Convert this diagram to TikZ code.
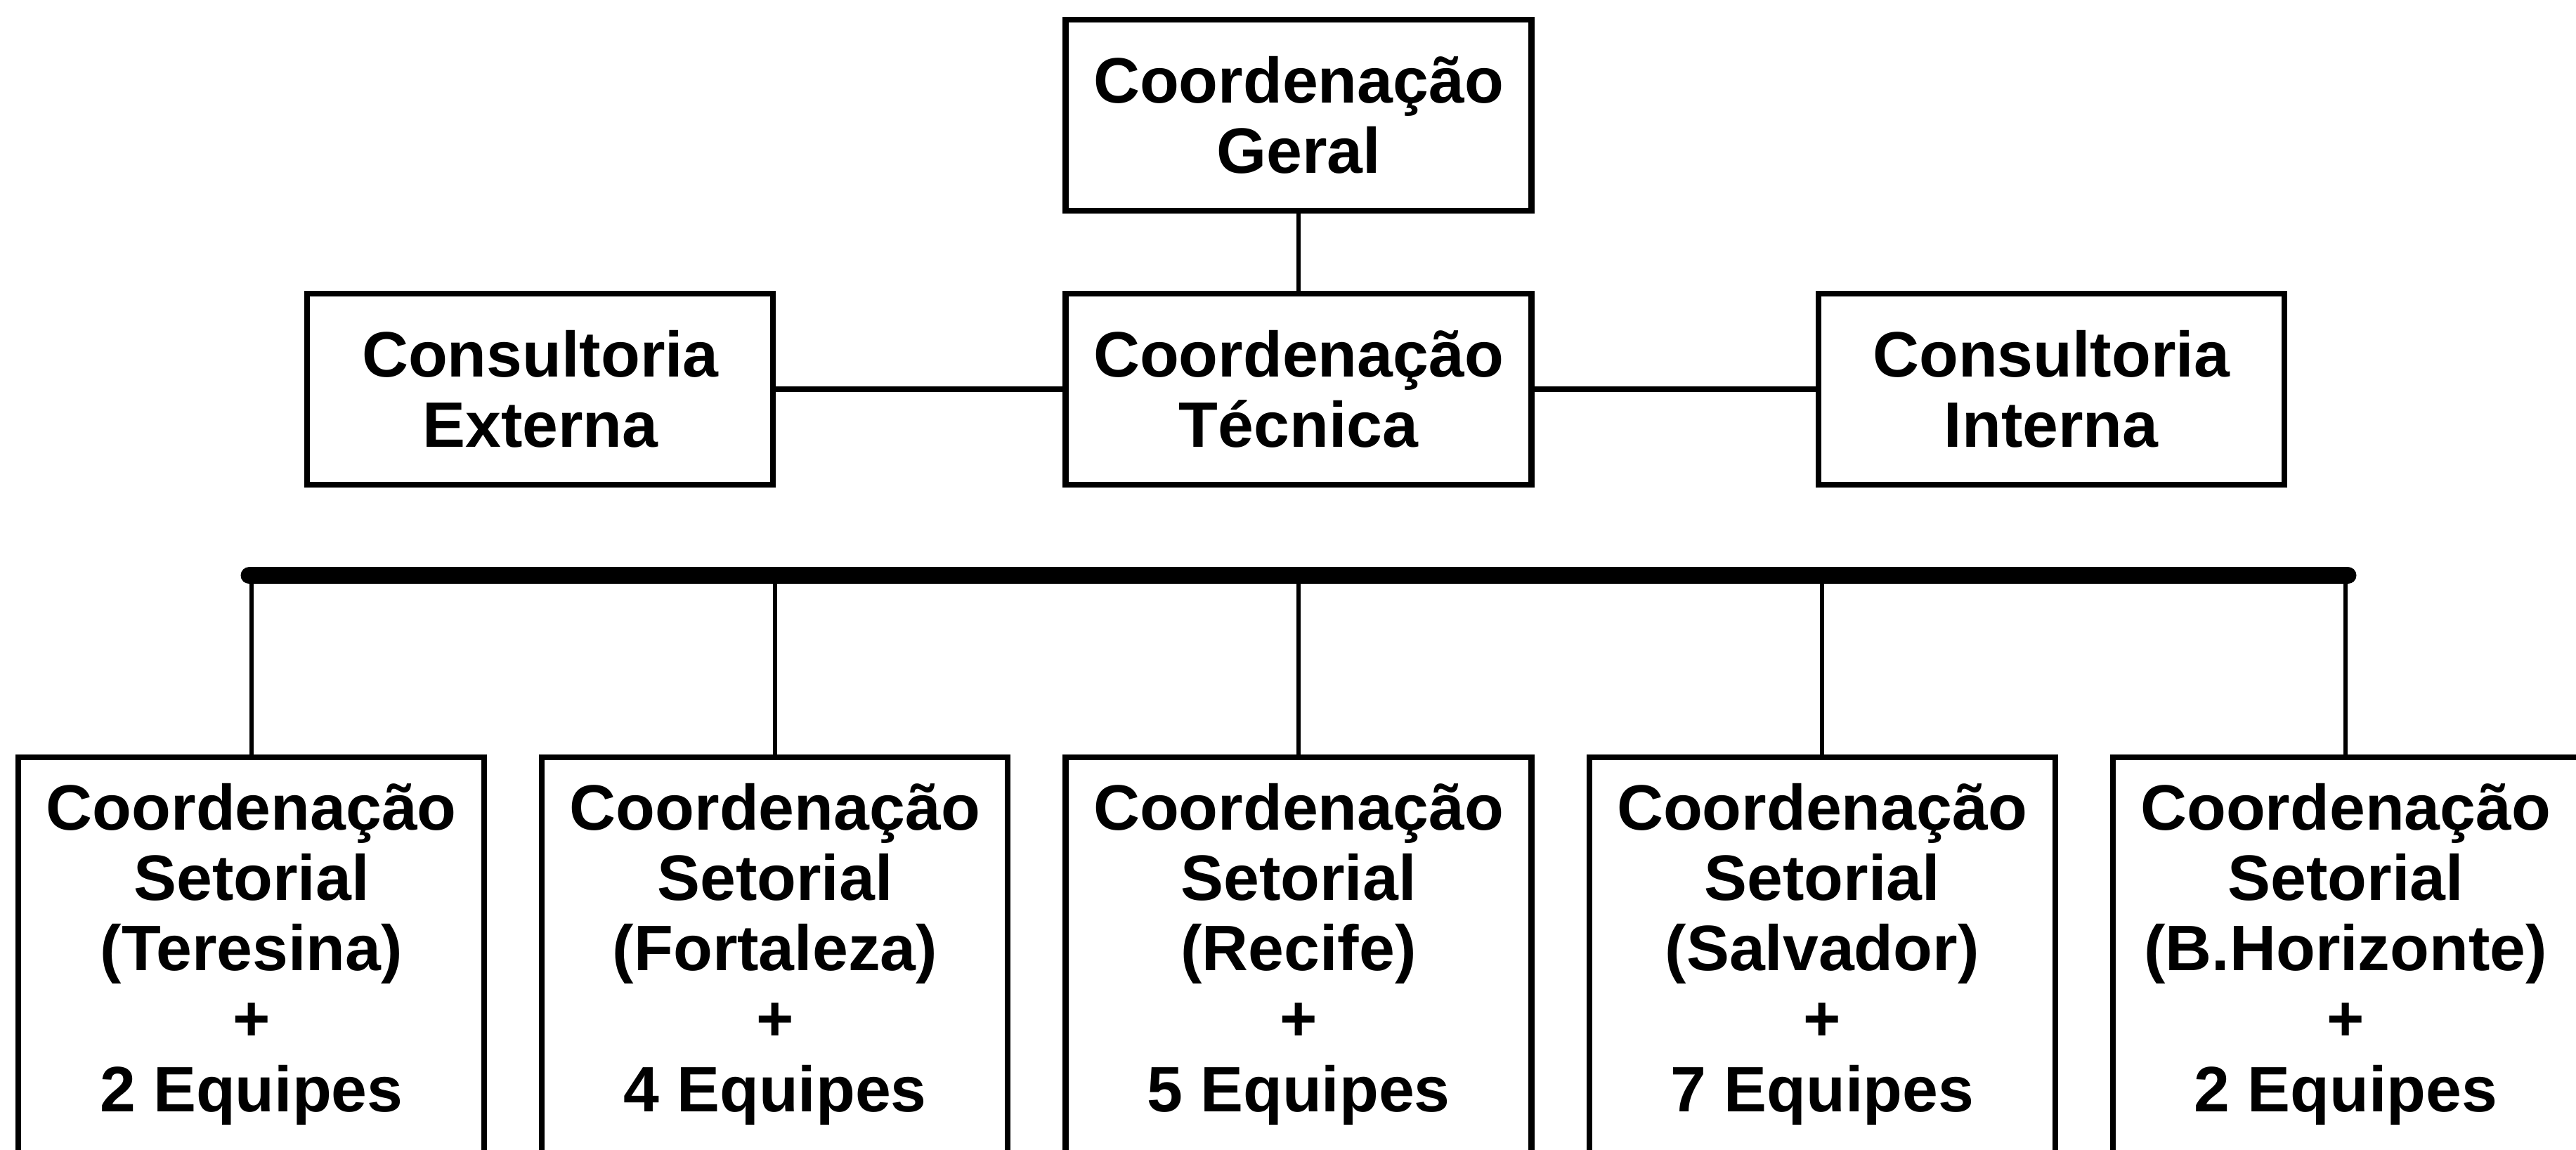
\documentclass[tikz,border=0pt]{standalone}
\usepackage{fontspec}
\setmainfont{Liberation Sans}
\usetikzlibrary{positioning}
\tikzstyle{cbox}=[rectangle, draw=black, line width=2.3pt, minimum width=6.63cm,
                  minimum height=2.72cm, inner sep=2pt, align=center,
                  font=\bfseries\fontsize{26}{28.5}\selectfont]
\tikzstyle{sbox}=[cbox, anchor=north, inner ysep=0.37cm,
                  execute at end node={\rule[-2cm]{0pt}{0pt}}]
\tikzstyle{hline}=[-, line width=2.2pt]
\tikzstyle{pline}=[-, line width=1.6pt]
\tikzstyle{busline}=[-, line width=7pt, line cap=round]

\begin{document}
\begin{tikzpicture}[node distance=0mm]
\useasboundingbox (0,0) rectangle (36.66,16.36);

\node (CGER) [cbox] at (18.48,14.72) {Coordenação\\Geral};
\node (CTEC) [cbox,below=1.1cm of CGER] {Coordenação\\Técnica};
 \draw[pline] (CGER.south) -- (CTEC.north);
\node (CEXT) [cbox,left=4.08cm of CTEC] {Consultoria\\Externa};
 \draw[hline] (CEXT.east) -- (CTEC.west);
\node (CINT) [cbox,right=4.0cm of CTEC] {Consultoria\\Interna};
 \draw[hline] (CTEC.east) -- (CINT.west);

\coordinate[below=1.25cm of CTEC] (BUS);
\node (CREC) [sbox,below=3.8cm of CTEC] {Coordenação\\Setorial\\(Recife)\\+\\5 Equipes};
\node (CFOR) [sbox,left=0.74cm of CREC] {Coordenação\\Setorial\\(Fortaleza)\\+\\4 Equipes};
\node (CTER) [sbox,left=0.74cm of CFOR] {Coordenação\\Setorial\\(Teresina)\\+\\2 Equipes};
\node (CSAL) [sbox,right=0.74cm of CREC] {Coordenação\\Setorial\\(Salvador)\\+\\7 Equipes};
\node (CBHZ) [sbox,right=0.74cm of CSAL] {Coordenação\\Setorial\\(B.Horizonte)\\+\\2 Equipes};

 \draw[busline] ([xshift=-0.03cm]CTER.north |- BUS) -- ([xshift=0.03cm]CBHZ.north |- BUS);
\foreach \n in {CTER,CFOR,CREC,CSAL,CBHZ}
 \draw[pline] (\n.north |- BUS) -- (\n.north);

\end{tikzpicture}
\end{document}
